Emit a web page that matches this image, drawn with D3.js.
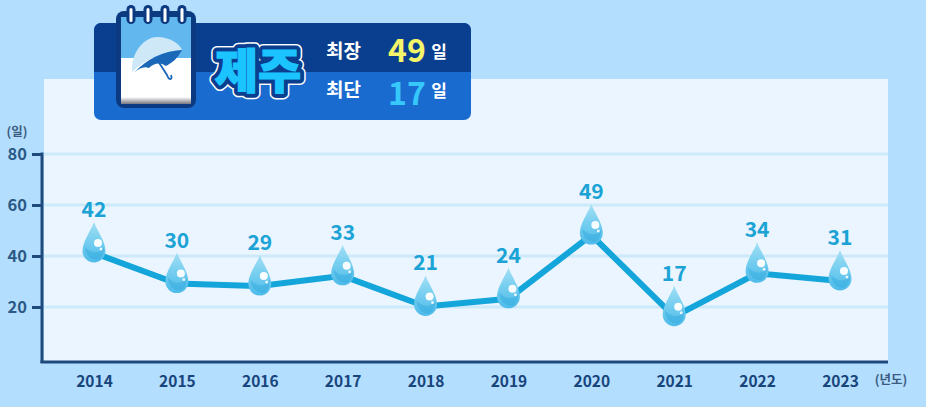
<!DOCTYPE html>
<html>
<head>
<meta charset="utf-8">
<script src="https://cdn.jsdelivr.net/npm/d3@7"></script>
<style>
  html, body { margin: 0; padding: 0; background: #b3defe; overflow: hidden; }
  text { font-family: "Noto Sans CJK KR", "Noto Sans", sans-serif; }
</style>
</head>
<body>
<svg id="chart" width="926" height="407"></svg>
<script>
const years = [2014, 2015, 2016, 2017, 2018, 2019, 2020, 2021, 2022, 2023];
const days = [42, 30, 29, 33, 21, 24, 49, 17, 34, 31];
const yTicks = [20, 40, 60, 80];

const regionName = "제주";
const longestLabel = "최장";
const shortestLabel = "최단";
const longestDays = 49;
const shortestDays = 17;
const dayUnit = "일";

const svg = d3.select("#chart");

const xScale = d3.scalePoint().domain(years).range([94, 840]);
const yScale = d3.scaleLinear().domain([0, 80]).range([358, 154]);
const axisY = 362;
const axisX = 42;

const defs = svg.append("defs");

const dropGrad = defs.append("linearGradient").attr("id", "dropGrad")
  .attr("x1", 0).attr("y1", 0).attr("x2", 0).attr("y2", 1);
dropGrad.append("stop").attr("offset", "0%").attr("stop-color", "#a3dff4");
dropGrad.append("stop").attr("offset", "45%").attr("stop-color", "#78cff0");
dropGrad.append("stop").attr("offset", "100%").attr("stop-color", "#4dbbe9");

const rimGrad = defs.append("linearGradient").attr("id", "calBottom")
  .attr("x1", 0).attr("y1", 0).attr("x2", 0).attr("y2", 1);
rimGrad.append("stop").attr("offset", "0%").attr("stop-color", "#ffffff");
rimGrad.append("stop").attr("offset", "100%").attr("stop-color", "#77777f");

// plot background
svg.append("rect").attr("x", 44).attr("y", 79).attr("width", 844).attr("height", axisY - 79)
  .attr("fill", "#eaf5ff");

// grid lines
svg.append("g").selectAll("line").data(yTicks).enter().append("line")
  .attr("x1", 44).attr("x2", 888)
  .attr("y1", d => yScale(d)).attr("y2", d => yScale(d))
  .attr("stroke", "#cdeafa").attr("stroke-width", 3);

// y axis
const yAxis = svg.append("g").attr("transform", `translate(${axisX},0)`)
  .call(d3.axisLeft(yScale).tickValues(yTicks).tickSize(10).tickPadding(5));
yAxis.select(".domain").remove();
yAxis.selectAll("line").attr("stroke", "#1f4a7c").attr("stroke-width", 3);
yAxis.selectAll("text").attr("fill", "#2b5a86").attr("font-size", 16.5).attr("font-weight", 700)
  .style("font-family", '"Noto Sans CJK KR", sans-serif');

svg.append("line").attr("x1", axisX).attr("x2", axisX)
  .attr("y1", yScale(80) - 1.5).attr("y2", axisY + 1)
  .attr("stroke", "#1f4a7c").attr("stroke-width", 3);

// x axis
const xAxis = svg.append("g").attr("transform", `translate(0,${axisY})`)
  .call(d3.axisBottom(xScale).tickSize(0).tickPadding(14));
xAxis.select(".domain").remove();
xAxis.selectAll("text").attr("fill", "#17457c").attr("font-size", 15.5).attr("font-weight", 700)
  .style("font-family", '"Noto Sans CJK KR", sans-serif');

svg.append("line").attr("x1", axisX - 1.5).attr("x2", 888)
  .attr("y1", axisY).attr("y2", axisY)
  .attr("stroke", "#1f4a7c").attr("stroke-width", 3);

svg.append("text").attr("x", 17).attr("y", 136).attr("text-anchor", "middle")
  .attr("font-size", 12.5).attr("font-weight", 700).attr("fill", "#3b5c80").text("(일)");
svg.append("text").attr("x", 891).attr("y", 384).attr("text-anchor", "middle")
  .attr("font-size", 12.5).attr("font-weight", 700).attr("fill", "#3b5c80").text("(년도)");

// line sits a little below the drop centres
const line = d3.line().x((d, i) => xScale(years[i])).y(d => yScale(d) + 2);
svg.append("path").datum(days)
  .attr("d", line)
  .attr("fill", "none")
  .attr("stroke", "#14a5da")
  .attr("stroke-width", 6);

// drops
const dropPath = "M0,-29 C2,-22 11.5,-10 11.5,0 A11.5,11.5 0 0 1 -11.5,0 C-11.5,-10 -2,-22 0,-29 Z";
const drops = svg.append("g").selectAll("g").data(days).enter().append("g")
  .attr("transform", (d, i) => `translate(${xScale(years[i])},${yScale(d)})`);

drops.append("path").attr("d", dropPath).attr("fill", "url(#dropGrad)");
drops.append("path")
  .attr("d", "M-9,-4 C-9,5 -2,9 3,9 C8,8 10,3 10,-4 C6,3 -3,3 -9,-4 Z")
  .attr("fill", "#2ba6dd").attr("opacity", 0.4);
drops.append("circle").attr("cx", 4).attr("cy", -8).attr("r", 4).attr("fill", "#ffffff").attr("opacity", 0.95);
drops.append("circle").attr("cx", 7).attr("cy", -2).attr("r", 1.5).attr("fill", "#ffffff").attr("opacity", 0.85);

// value labels
svg.append("g").selectAll("text").data(days).enter().append("text")
  .attr("x", (d, i) => xScale(years[i]))
  .attr("y", d => yScale(d) - 34)
  .attr("text-anchor", "middle")
  .attr("font-size", 21).attr("font-weight", 700)
  .attr("fill", "#1ba3d6")
  .text(d => d);

// title banner
const banner = svg.append("g");
banner.append("rect").attr("x", 94).attr("y", 23).attr("width", 377).attr("height", 97).attr("rx", 7)
  .attr("fill", "#1a6bd0");
banner.append("path")
  .attr("d", "M94,72 V30 A7,7 0 0 1 101,23 H464 A7,7 0 0 1 471,30 V72 Z")
  .attr("fill", "#0a3f8f");

// calendar icon
banner.append("rect").attr("x", 116).attr("y", 11).attr("width", 80).attr("height", 97).attr("rx", 8)
  .attr("fill", "#0b3a80");
banner.append("rect").attr("x", 121).attr("y", 17).attr("width", 70).attr("height", 87).attr("fill", "#ffffff");
banner.append("rect").attr("x", 121).attr("y", 17).attr("width", 70).attr("height", 41).attr("fill", "#62b8ee");
banner.append("rect").attr("x", 121).attr("y", 97).attr("width", 70).attr("height", 7).attr("fill", "url(#calBottom)");
const ringNames = ["a", "b", "c", "d"];
banner.selectAll("rect.ringBack").data(ringNames).enter().append("rect")
  .attr("class", "ringBack")
  .attr("x", (d, i) => 126.5 + i * 17).attr("y", 5).attr("width", 9).attr("height", 19).attr("rx", 4.5)
  .attr("fill", "#0b3a80");
banner.selectAll("rect.ring").data(ringNames).enter().append("rect")
  .attr("class", "ring")
  .attr("x", (d, i) => 129.5 + i * 17).attr("y", 8).attr("width", 3).attr("height", 14).attr("rx", 1.5)
  .attr("fill", "#ffffff");

// umbrella on the calendar
const umbrella = banner.append("g");
umbrella.append("path").attr("d", "M132,72 C131,50 146,37 157,37 C170,37 180,44 182,50 C164,51 146,59 132,72 Z")
  .attr("fill", "#cfe8f8");
umbrella.append("path").attr("d", "M134,73 C146,59 164,51 182,50 C178,58 172,63 166,66 C160,62 154,63 149,68 C144,66 139,68 134,73 Z")
  .attr("fill", "#1c68b8");
umbrella.append("path").attr("d", "M156,58 L167,75 C169,81 173,80 171,75")
  .attr("fill", "none").attr("stroke", "#1c68b8").attr("stroke-width", 1.8);

// region name with layered outline
[["#ffffff", 12], ["#0a3f8f", 9]].forEach(([color, width]) => {
  banner.append("text").attr("x", 258).attr("y", 88).attr("text-anchor", "middle")
    .attr("font-size", 47).attr("font-weight", 900)
    .attr("fill", color).attr("stroke", color).attr("stroke-width", width).attr("stroke-linejoin", "round")
    .text(regionName);
});
banner.append("text").attr("x", 258).attr("y", 88).attr("text-anchor", "middle")
  .attr("font-size", 47).attr("font-weight", 900).attr("fill", "#1cc4ff")
  .attr("stroke", "#1cc4ff").attr("stroke-width", 1.2).text(regionName);

// longest and shortest
const statRows = [
  { label: longestLabel, value: longestDays, y: 58, valueY: 62, color: "#f5f56a" },
  { label: shortestLabel, value: shortestDays, y: 97, valueY: 105, color: "#37c8fb" }
];
statRows.forEach(r => {
  banner.append("text").attr("x", 343.5).attr("y", r.y).attr("text-anchor", "middle")
    .attr("font-size", 19).attr("font-weight", 700).attr("fill", "#ffffff").text(r.label);
  banner.append("text").attr("x", 407).attr("y", r.valueY).attr("text-anchor", "middle")
    .attr("font-size", 32).attr("font-weight", 700).attr("fill", r.color).text(r.value);
  banner.append("text").attr("x", 439).attr("y", r.y).attr("text-anchor", "middle")
    .attr("font-size", 17).attr("font-weight", 700).attr("fill", "#ffffff").text(dayUnit);
});
</script>
</body>
</html>
